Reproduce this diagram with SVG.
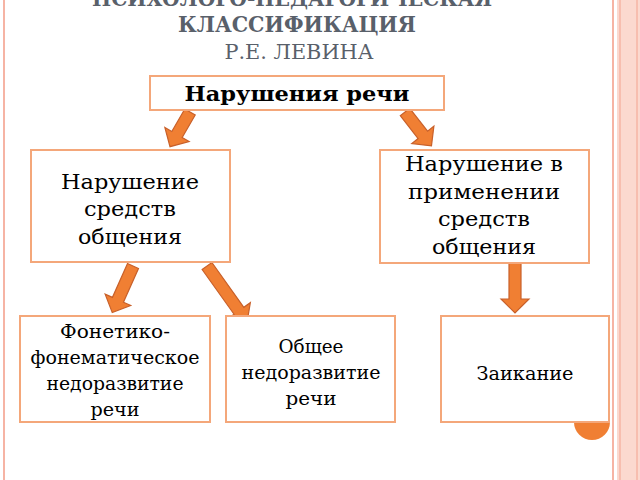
<svg xmlns="http://www.w3.org/2000/svg" width="640" height="480" viewBox="0 0 640 480">
<style>
.box{fill:#fff;stroke:#f4a77a;stroke-width:2}
.t{font-family:"DejaVu Serif","Liberation Serif",serif;font-size:21px;text-anchor:middle;fill:#000}
.b{font-size:19px}
.ar{fill:#f07f33;stroke:#c8602a;stroke-width:1.2}
.ti{font-family:"DejaVu Serif","Liberation Serif",serif;text-anchor:middle;fill:#59606a}
</style>
<rect width="640" height="480" fill="#fff"/>
<rect x="617" y="0" width="23" height="480" fill="#fbd9cf"/>
<line x1="620" y1="0" x2="620" y2="480" stroke="#f6b4a4" stroke-width="1.5"/>
<line x1="637" y1="0" x2="637" y2="480" stroke="#f6b4a4" stroke-width="1.5"/>
<line x1="4" y1="0" x2="4" y2="480" stroke="#f6b4a4" stroke-width="2"/>
<line x1="613" y1="0" x2="613" y2="480" stroke="#f6b4a4" stroke-width="2"/>
<text class="ti" x="292" y="6" font-size="22" font-weight="bold" textLength="400" lengthAdjust="spacingAndGlyphs">ПСИХОЛОГО-ПЕДАГОГИЧЕСКАЯ</text>
<text class="ti" x="297" y="32" font-size="22" font-weight="bold" textLength="238" lengthAdjust="spacingAndGlyphs">КЛАССИФИКАЦИЯ</text>
<text class="ti" x="299" y="59" font-size="21" textLength="149" lengthAdjust="spacingAndGlyphs">Р.Е. ЛЕВИНА</text>
<circle cx="592" cy="422" r="18" fill="#f07f33"/>
<g id="connectors">
<path class="ar" d="M-6,0 H6 V26 H14 L0,40 L-14,26 H-6 Z" transform="translate(190,112) rotate(30)"/>
<path class="ar" d="M-6,0 H6 V29 H14 L0,43 L-14,29 H-6 Z" transform="translate(405,112) rotate(-38)"/>
<path class="ar" d="M-6,0 H6 V37 H14 L0,51 L-14,37 H-6 Z" transform="translate(133,266) rotate(24)"/>
<path class="ar" d="M-6,0 H6 V55 H14 L0,69 L-14,55 H-6 Z" transform="translate(207,266) rotate(-35.5)"/>
<path class="ar" d="M-6,0 H6 V37 H14 L0,51 L-14,37 H-6 Z" transform="translate(515,262)"/>
</g>
<g id="n0"><rect class="box" x="150" y="76" width="294" height="34"/><text class="t" x="297" y="101" font-weight="bold" font-size="21" textLength="225" lengthAdjust="spacingAndGlyphs">Нарушения речи</text></g>
<g id="n1"><rect class="box" x="31" y="150" width="199" height="112"/><text class="t" x="130" y="189" textLength="138" lengthAdjust="spacingAndGlyphs">Нарушение</text><text class="t" x="130" y="216" textLength="92" lengthAdjust="spacingAndGlyphs">средств</text><text class="t" x="130" y="244" textLength="104" lengthAdjust="spacingAndGlyphs">общения</text></g>
<g id="n2"><rect class="box" x="380" y="150" width="209" height="113"/><text class="t" x="484" y="171" textLength="158" lengthAdjust="spacingAndGlyphs">Нарушение в</text><text class="t" x="484" y="199" textLength="152" lengthAdjust="spacingAndGlyphs">применении</text><text class="t" x="484" y="226" textLength="92" lengthAdjust="spacingAndGlyphs">средств</text><text class="t" x="484" y="254" textLength="104" lengthAdjust="spacingAndGlyphs">общения</text></g>
<g id="n3"><rect class="box" x="20" y="316" width="190" height="106"/><text class="t b" x="115" y="338" textLength="110" lengthAdjust="spacingAndGlyphs">Фонетико-</text><text class="t b" x="115" y="364" textLength="169" lengthAdjust="spacingAndGlyphs">фонематическое</text><text class="t b" x="115" y="390" textLength="137" lengthAdjust="spacingAndGlyphs">недоразвитие</text><text class="t b" x="115" y="416" textLength="49" lengthAdjust="spacingAndGlyphs">речи</text></g>
<g id="n4"><rect class="box" x="226" y="316" width="169" height="106"/><text class="t b" x="311" y="353" textLength="65" lengthAdjust="spacingAndGlyphs">Общее</text><text class="t b" x="311" y="379" textLength="139" lengthAdjust="spacingAndGlyphs">недоразвитие</text><text class="t b" x="311" y="405" textLength="51" lengthAdjust="spacingAndGlyphs">речи</text></g>
<g id="n5"><rect class="box" x="441" y="316" width="168" height="106"/><text class="t b" x="525" y="380" textLength="97" lengthAdjust="spacingAndGlyphs">Заикание</text></g>
</svg>
